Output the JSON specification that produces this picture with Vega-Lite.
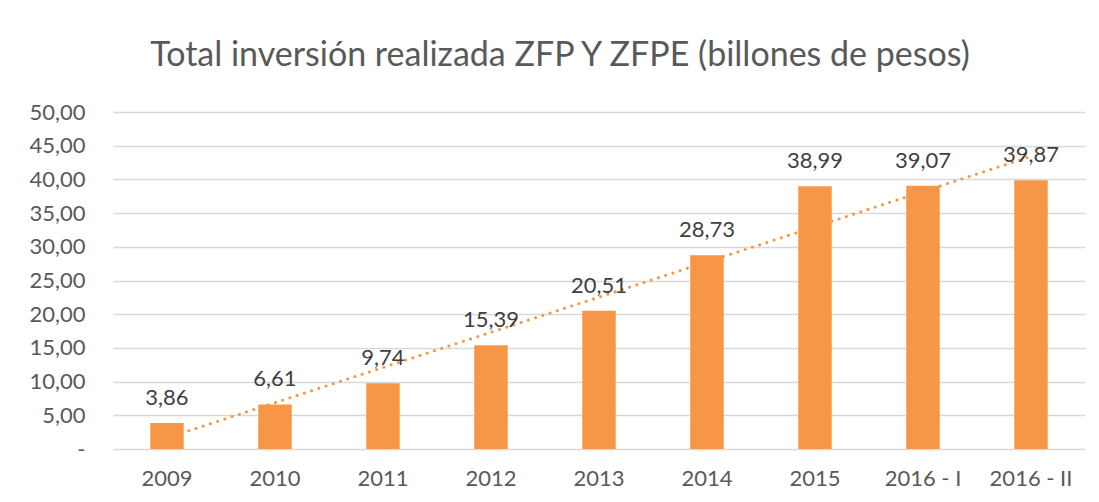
{
  "$schema": "https://vega.github.io/schema/vega-lite/v6.json",
  "width": 972,
  "height": 337,
  "autosize": {"type": "none"},
  "padding": {"left": 113, "top": 112, "right": 14, "bottom": 53},
  "background": "white",
  "title": {
    "text": "Total inversión realizada ZFP Y ZFPE (billones de pesos)",
    "font": "Lato",
    "fontSize": 34,
    "fontWeight": "normal",
    "color": "#595959",
    "anchor": "middle",
    "dx": -39,
    "offset": 28
  },
  "datasets": {
    "bars": [
      {"periodo": "2009", "valor": 3.86},
      {"periodo": "2010", "valor": 6.61},
      {"periodo": "2011", "valor": 9.74},
      {"periodo": "2012", "valor": 15.39},
      {"periodo": "2013", "valor": 20.51},
      {"periodo": "2014", "valor": 28.73},
      {"periodo": "2015", "valor": 38.99},
      {"periodo": "2016 - I", "valor": 39.07},
      {"periodo": "2016 - II", "valor": 39.87}
    ],
    "trend": [
      {"periodo": "2009", "valor": 1.65},
      {"periodo": "2010", "valor": 6.87},
      {"periodo": "2011", "valor": 12.09},
      {"periodo": "2012", "valor": 17.31},
      {"periodo": "2013", "valor": 22.53},
      {"periodo": "2014", "valor": 27.75},
      {"periodo": "2015", "valor": 32.97},
      {"periodo": "2016 - I", "valor": 38.19},
      {"periodo": "2016 - II", "valor": 43.41}
    ]
  },
  "encoding": {
    "x": {
      "field": "periodo",
      "type": "nominal",
      "sort": null,
      "scale": {"paddingInner": 0.69, "paddingOuter": 0.345},
      "axis": {
        "title": null,
        "labelAngle": 0,
        "labelFont": "Lato",
        "labelFontSize": 22,
        "labelColor": "#595959",
        "labelPadding": 19,
        "labelOverlap": false,
        "ticks": false,
        "domain": false
      }
    },
    "y": {
      "field": "valor",
      "type": "quantitative",
      "scale": {"domain": [0, 50], "nice": false},
      "axis": {
        "title": null,
        "values": [0, 5, 10, 15, 20, 25, 30, 35, 40, 45, 50],
        "tickCount": 20,
        "format": ".2f",
        "labelExpr": "datum.value === 0 ? '-' : datum.label",
        "labelFont": "Lato",
        "labelFontSize": 22,
        "labelColor": "#595959",
        "labelPadding": 28,
        "labelOverlap": false,
        "ticks": false,
        "domain": false,
        "grid": true,
        "gridColor": "#D9D9D9",
        "gridWidth": 1.3
      }
    }
  },
  "layer": [
    {
      "data": {"name": "trend"},
      "mark": {"type": "line", "color": "#F79646", "strokeWidth": 3, "strokeDash": [0.1, 7.5], "strokeCap": "round"}
    },
    {
      "data": {"name": "bars"},
      "mark": {"type": "bar", "color": "#F79646"}
    },
    {
      "data": {"name": "bars"},
      "mark": {"type": "text", "font": "Lato", "fontSize": 22, "color": "#404040", "baseline": "alphabetic", "dy": -18},
      "encoding": {
        "text": {"field": "valor", "type": "quantitative", "format": ".2f"}
      }
    }
  ],
  "config": {
    "locale": {"number": {"decimal": ",", "thousands": ".", "grouping": [3], "currency": ["$", ""]}},
    "view": {"stroke": null}
  }
}
